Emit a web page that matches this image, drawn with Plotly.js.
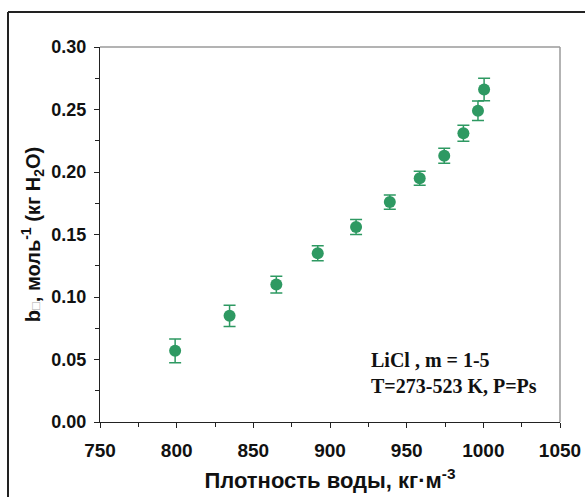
<!DOCTYPE html>
<html>
<head>
<meta charset="utf-8">
<script src="https://cdn.plot.ly/plotly-3.0.1.min.js"></script>
<style>
html,body{margin:0;padding:0;background:#fff;}
#chart{width:585px;height:497px;}
</style>
</head>
<body>
<div id="chart"></div>
<script>
// Data
const density = [799, 834.5, 865, 892, 917, 939, 958.5, 974.5, 987, 996.5, 1000.5];
const bValues = [0.057, 0.085, 0.110, 0.135, 0.156, 0.176, 0.195, 0.213, 0.231, 0.249, 0.266];
const bErrors = [0.0095, 0.0085, 0.0067, 0.006, 0.006, 0.0057, 0.0056, 0.006, 0.0064, 0.0078, 0.009];
const xTickVals = [750, 800, 850, 900, 950, 1000, 1050];
const yTickVals = [0.00, 0.05, 0.10, 0.15, 0.20, 0.25, 0.30];
const annotationLines = ["LiCl , m = 1-5", "T=273-523 K, P=Ps"];

const green = '#2e9962';
const sans = 'Liberation Sans, Arial, sans-serif';
const serif = 'Liberation Serif, Times New Roman, serif';

const trace = {
  x: density,
  y: bValues,
  type: 'scatter',
  mode: 'markers',
  marker: {color: green, size: 12},
  error_y: {type: 'data', array: bErrors, visible: true, color: green, thickness: 1.5, width: 6},
  showlegend: false,
  hoverinfo: 'x+y'
};

const layout = {
  width: 585,
  height: 497,
  margin: {l: 100, r: 25, t: 47, b: 75},
  paper_bgcolor: '#ffffff',
  plot_bgcolor: '#ffffff',
  font: {family: sans, size: 18, color: '#111'},
  xaxis: {
    range: [750, 1050],
    tickvals: xTickVals,
    ticktext: xTickVals.map(v => '<b>' + v + '</b>'),
    ticks: 'outside', ticklen: 5, tickwidth: 1, tickcolor: '#222',
    ticklabelstandoff: 6,
    minor: {dtick: 25, ticks: 'outside', ticklen: 4, tickcolor: '#222', tickwidth: 1},
    showgrid: false, zeroline: false,
    showline: true, linecolor: '#222', linewidth: 1.2,
    tickfont: {family: sans, size: 19, color: '#111'},
    title: {text: '<b>Плотность воды, кг·м<sup>-3</sup></b>', font: {family: sans, size: 22, color: '#111'}, standoff: 12}
  },
  yaxis: {
    range: [0, 0.30],
    tickvals: yTickVals,
    ticktext: yTickVals.map(v => '<b>' + v.toFixed(2) + '</b>'),
    ticks: 'outside', ticklen: 5, tickwidth: 1, tickcolor: '#222',
    ticklabelstandoff: 4,
    minor: {dtick: 0.025, ticks: 'outside', ticklen: 4, tickcolor: '#222', tickwidth: 1},
    showgrid: false, zeroline: false,
    showline: true, linecolor: '#222', linewidth: 1.2,
    tickfont: {family: sans, size: 18, color: '#111'},
    title: {text: '<b>b<span style="color:#aaa;font-size:13px">□</span>, моль<sup>-1</sup> (кг H<sub>2</sub>O)</b>', font: {family: sans, size: 20, color: '#111'}, standoff: 5}
  },
  shapes: [
    {type: 'line', xref: 'paper', yref: 'paper', x0: 0, x1: 1, y0: 1, y1: 1, line: {color: '#9a9a9a', width: 1.5}},
    {type: 'line', xref: 'paper', yref: 'paper', x0: 1, x1: 1, y0: 0, y1: 1, line: {color: '#9a9a9a', width: 1.5}},
    {type: 'line', xref: 'paper', yref: 'paper', x0: -0.2, x1: -0.2, y0: -0.3, y1: 1.0933, line: {color: '#222', width: 2}},
    {type: 'line', xref: 'paper', yref: 'paper', x0: -0.2, x1: 1.2, y0: 1.0933, y1: 1.0933, line: {color: '#222', width: 2}}
  ],
  annotations: [
    {xref: 'paper', yref: 'paper', x: 0.585, y: 0.13, xanchor: 'left', yanchor: 'middle', align: 'left', showarrow: false,
     text: '<b>' + annotationLines.join('<br>') + '</b>', font: {family: serif, size: 20, color: '#111'}}
  ]
};

Plotly.newPlot('chart', [trace], layout, {displayModeBar: false, staticPlot: true});
</script>
</body>
</html>
